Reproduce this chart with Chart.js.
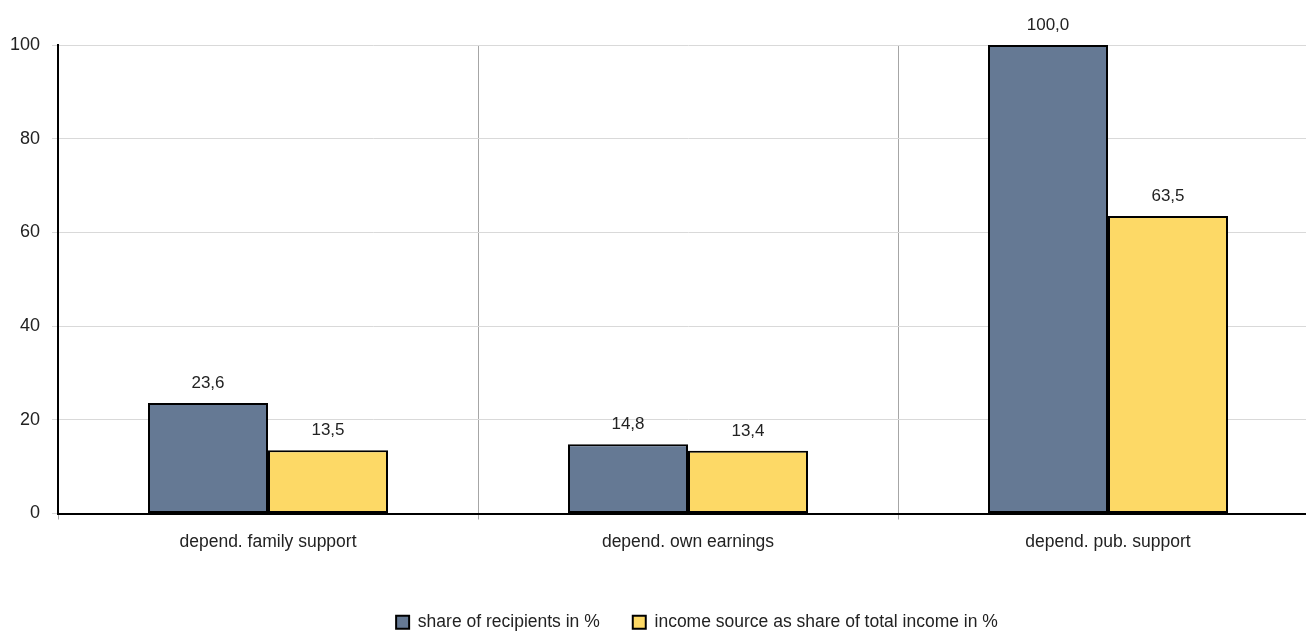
<!DOCTYPE html>
<html>
<head>
<meta charset="utf-8">
<script src="https://cdn.jsdelivr.net/npm/chart.js@4"></script>
<style>
  html, body { margin: 0; padding: 0; background: #fff; overflow: hidden; }
  #wrap { width: 1320px; height: 645px; }
</style>
</head>
<body>
<div id="wrap"><canvas id="chart"></canvas></div>
<script>
const categories = ['depend. family support', 'depend. own earnings', 'depend. pub. support'];
const recipients = [23.6, 14.8, 100.0];
const incomeShare = [13.5, 13.4, 63.5];
const seriesNames = ['share of recipients in %', 'income source as share of total income in %'];

const FONT = 'Liberation Sans, Arial, sans-serif';

// value labels above each bar, decimal comma
const barLabels = {
  id: 'barLabels',
  afterDatasetsDraw(chart) {
    const { ctx } = chart;
    ctx.save();
    ctx.font = '17px ' + FONT;
    ctx.fillStyle = '#222';
    ctx.textAlign = 'center';
    ctx.textBaseline = 'bottom';
    chart.data.datasets.forEach((ds, i) => {
      chart.getDatasetMeta(i).data.forEach((bar, j) => {
        ctx.fillText(ds.data[j].toFixed(1).replace('.', ','), bar.x, bar.y - 11);
      });
    });
    ctx.restore();
  }
};

// nudge the legend row a little to the right
const legendShift = {
  id: 'legendShift',
  afterLayout(chart) {
    chart.legend.left += 38;
    chart.legend.right += 38;
  }
};

new Chart(document.getElementById('chart'), {
  type: 'bar',
  data: {
    labels: categories,
    datasets: [{
      label: seriesNames[0],
      data: recipients,
      backgroundColor: '#657994',
      borderColor: '#000',
      borderWidth: 2,
      borderSkipped: false
    }, {
      label: seriesNames[1],
      data: incomeShare,
      backgroundColor: '#fdd966',
      borderColor: '#000',
      borderWidth: 2,
      borderSkipped: false
    }]
  },
  options: {
    responsive: true,
    maintainAspectRatio: false,
    animation: false,
    layout: { padding: { top: 45, right: 2, left: 0, bottom: 4 } },
    datasets: { bar: { barPercentage: 1, categoryPercentage: 240 / 420 } },
    scales: {
      x: {
        offset: true,
        grid: { offset: true, color: '#a6a6a6', tickLength: 6, drawOnChartArea: true },
        border: { color: '#000', width: 2 },
        ticks: { color: '#222', font: { family: FONT, size: 17.5 }, padding: 12 },
        afterFit(scale) { scale.height += 16; }
      },
      y: {
        min: 0,
        max: 100,
        ticks: { stepSize: 20, color: '#222', font: { family: FONT, size: 18 }, padding: 12 },
        grid: { color: '#d9d9d9', tickLength: 6 },
        border: { color: '#000', width: 2 },
        afterFit(scale) { scale.width = 58; }
      }
    },
    plugins: {
      legend: {
        position: 'bottom',
        labels: {
          color: '#222',
          font: { family: FONT, size: 17.5 },
          boxWidth: 13,
          boxHeight: 13,
          padding: 33
        }
      },
      tooltip: { enabled: false }
    }
  },
  plugins: [barLabels, legendShift]
});
</script>
</body>
</html>
